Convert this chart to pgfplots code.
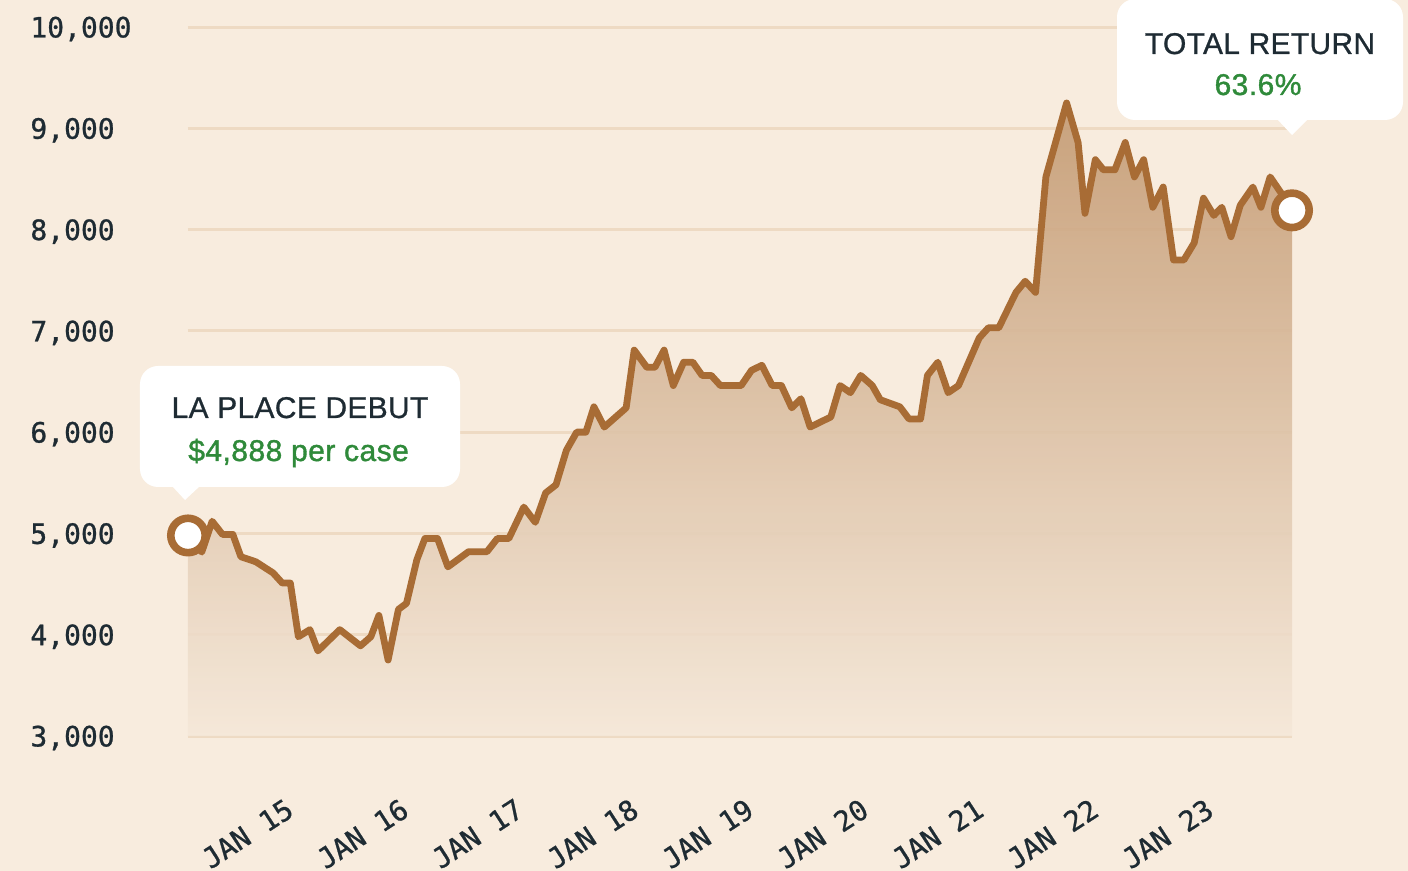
\documentclass[border=0pt]{standalone}
\usepackage{pgfplots}
\pgfplotsset{compat=1.18}
\usepackage{pgfplotstable}
\usepackage{fontspec}
\setmainfont{Liberation Sans}[FakeBold=0.5]
\newfontfamily\tickfont{DejaVu Sans Mono}[FakeBold=0.9]
\newfontfamily\greenfont{Liberation Sans}[FakeBold=1.2, LetterSpace=1.5]
\newfontfamily\titlefont{Liberation Sans}[FakeBold=0.8, LetterSpace=1.0]
\definecolor{bg}{HTML}{F8ECDE}
\definecolor{linec}{HTML}{A86C35}
\definecolor{gridc}{HTML}{EEDAC3}
\definecolor{darktext}{HTML}{1E2B33}
\definecolor{greentext}{HTML}{2F8A3A}
\definecolor{filltop}{HTML}{C49A72}
\definecolor{fillbot}{HTML}{F5E8D9}

\pgfplotstableread{
x y
2014.11 4980
2014.23 4816
2014.32 5120
2014.41 4990
2014.50 4990
2014.57 4770
2014.70 4720
2014.85 4610
2014.93 4510
2015.00 4510
2015.07 3980
2015.17 4050
2015.24 3840
2015.43 4050
2015.61 3890
2015.70 3980
2015.77 4190
2015.85 3750
2015.94 4250
2016.01 4310
2016.10 4740
2016.17 4950
2016.28 4950
2016.37 4670
2016.55 4820
2016.71 4820
2016.80 4950
2016.90 4950
2017.03 5260
2017.13 5110
2017.22 5400
2017.31 5480
2017.40 5820
2017.49 6000
2017.57 6000
2017.64 6250
2017.73 6050
2017.92 6240
2017.99 6810
2018.10 6640
2018.17 6640
2018.25 6810
2018.33 6460
2018.42 6690
2018.50 6690
2018.58 6560
2018.66 6560
2018.74 6460
2018.92 6460
2019.01 6610
2019.10 6660
2019.19 6460
2019.27 6460
2019.36 6240
2019.44 6330
2019.52 6050
2019.70 6150
2019.78 6460
2019.87 6390
2019.96 6560
2020.06 6460
2020.13 6320
2020.30 6250
2020.38 6130
2020.48 6130
2020.54 6560
2020.63 6690
2020.72 6390
2020.81 6460
2020.99 6930
2021.07 7030
2021.16 7030
2021.31 7380
2021.39 7490
2021.48 7380
2021.57 8520
2021.75 9250
2021.85 8860
2021.91 8160
2022.00 8690
2022.07 8590
2022.17 8590
2022.26 8860
2022.34 8520
2022.42 8690
2022.50 8220
2022.59 8420
2022.68 7700
2022.77 7700
2022.86 7870
2022.94 8310
2023.03 8140
2023.10 8220
2023.18 7930
2023.26 8240
2023.37 8420
2023.44 8220
2023.52 8520
2023.61 8370
2023.71 8190
}\pricedata

\begin{document}
\begin{tikzpicture}
\fill[bg] (-94bp,-67.5bp) rectangle (610bp,368bp);
\begin{axis}[
  at={(0,0)}, anchor=south west,
  scale only axis, width=552bp, height=354.5bp,
  xmin=2014.11, xmax=2023.71, ymin=3000, ymax=10000,
  clip=false,
  axis line style={draw=none},
  major tick length=0pt,
  ytick={3000,4000,5000,6000,7000,8000,9000,10000},
  ymajorgrids,
  grid style={gridc, line width=1.5bp},
  scaled y ticks=false,
  /pgf/number format/1000 sep={,},
  /pgf/number format/assume math mode=true,
  yticklabel style={font=\tickfont\fontsize{14bp}{16bp}\selectfont, text=darktext, anchor=west, inner sep=0pt, xshift=-79bp, yshift=-1bp},
  xtick={2015,2016,2017,2018,2019,2020,2021,2022,2023},
  xticklabels={JAN 15,JAN 16,JAN 17,JAN 18,JAN 19,JAN 20,JAN 21,JAN 22,JAN 23},
  xticklabel style={font=\tickfont\fontsize{14bp}{16bp}\selectfont, text=darktext, rotate=33, anchor=east, inner sep=0pt},
  xticklabel shift=35bp,
]
\addplot[draw=none, top color=filltop, bottom color=fillbot, fill opacity=0.9]
  table {\pricedata} -- (axis cs:2023.71,3000) -- (axis cs:2014.11,3000) -- cycle;
\addplot[linec, line width=3.4bp, line join=round, line cap=round] table {\pricedata};
\addplot[only marks, mark=*, mark size=8.6bp, mark options={fill=white, draw=linec, line width=3.8bp}]
  coordinates {(2014.11,4980) (2023.71,8190)};
\end{axis}
% callout 1
\fill[white, rounded corners=9bp] (-24bp,124.5bp) rectangle (136bp,185bp);
\fill[white] (-8bp,125bp) -- (-1.5bp,118bp) -- (6bp,125bp) -- cycle;
\node[anchor=base, text=darktext, font=\titlefont\fontsize{15bp}{17bp}\selectfont, inner sep=0pt] at (56bp,159bp) {LA PLACE DEBUT};
\node[anchor=base, text=greentext, font=\greenfont\fontsize{15bp}{17bp}\selectfont, inner sep=0pt] at (55.3bp,137.5bp) {\$4,888 per case};
% callout 2
\fill[white, rounded corners=9bp] (464.5bp,308bp) rectangle (607.5bp,368.5bp);
\fill[white] (544.5bp,308.5bp) -- (552bp,300.5bp) -- (560bp,308.5bp) -- cycle;
\node[anchor=base, text=darktext, font=\titlefont\fontsize{15bp}{17bp}\selectfont, inner sep=0pt] at (536bp,341bp) {TOTAL RETURN};
\node[anchor=base, text=greentext, font=\greenfont\fontsize{15bp}{17bp}\selectfont, inner sep=0pt] at (535bp,320.5bp) {63.6\%};
\pgfresetboundingbox
\path[use as bounding box] (-94bp,-67.5bp) rectangle (610bp,368bp);
\end{tikzpicture}
\end{document}
